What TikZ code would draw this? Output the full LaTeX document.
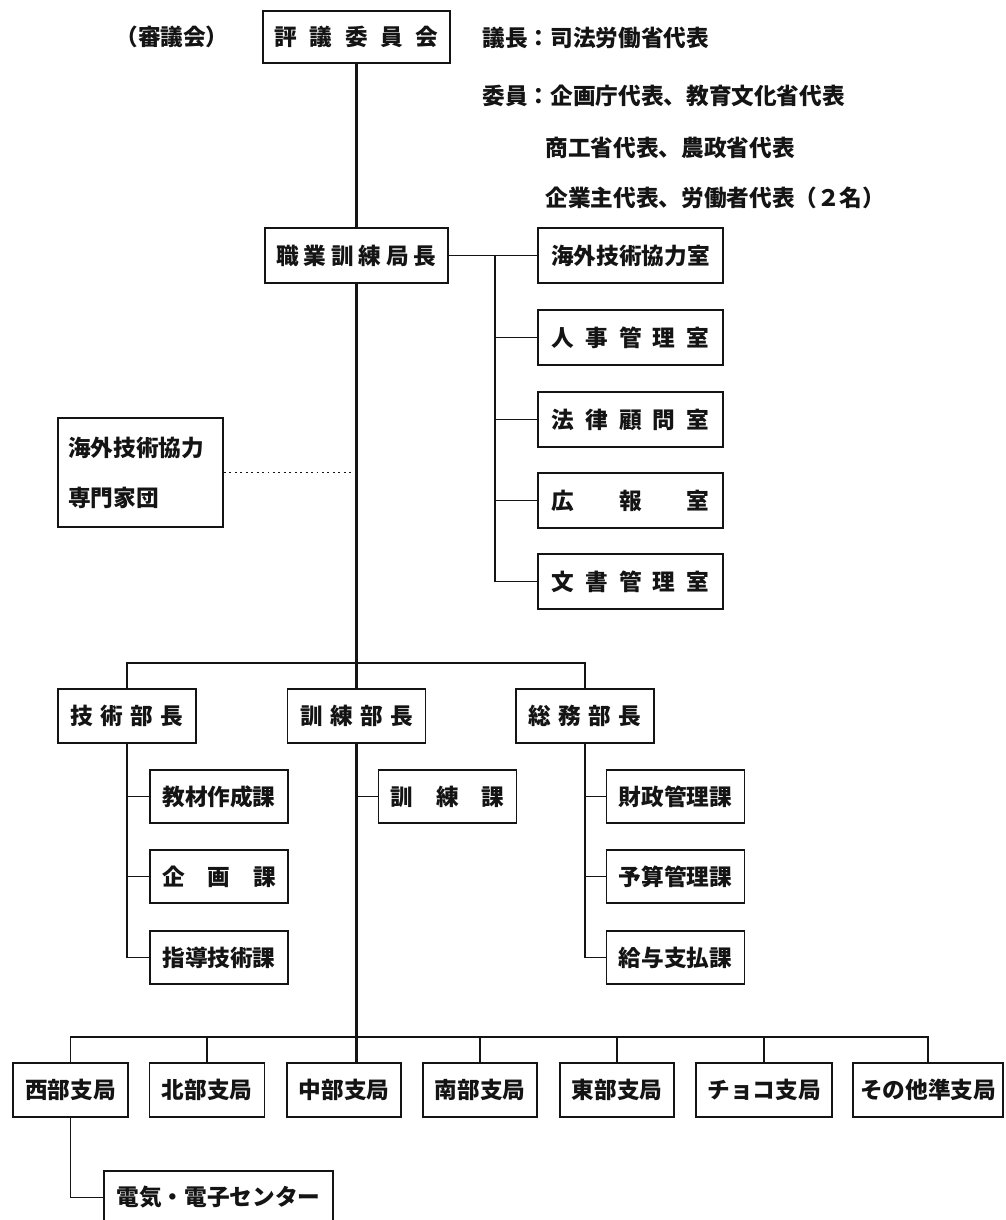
\documentclass[tikz,border=0pt]{standalone}
\usepackage{fontspec}
\setmainfont{Noto Sans CJK JP}
\usepackage{xcolor}
\definecolor{ogink}{HTML}{141414}
\usetikzlibrary{calc,backgrounds}
\newcommand{\ogfont}{\fontsize{12.9}{15}\selectfont\bfseries}
\newcommand{\ogspread}[2]{\makebox[#1][s]{#2}}
\tikzset{
  ogbox/.style    ={rectangle, draw=ogink, line width=1.1pt, fill=white, inner sep=0pt,
                    minimum height=1.08cm, align=center, font=\ogfont, text=ogink},
  ogoffice/.style ={ogbox, minimum width=3.7cm, minimum height=1.1cm},
  ogdept/.style   ={ogbox, minimum width=2.76cm},
  ogsect/.style   ={ogbox, minimum width=2.76cm, minimum height=1.06cm},
  ogbranch/.style ={ogbox, minimum width=2.3cm},
  ogmain/.style   ={line width=1.7pt, draw=ogink},
  ogline/.style   ={line width=0.9pt, draw=ogink},
  ogdots/.style   ={line width=1.1pt, draw=ogink, dotted},
  oglbl/.style    ={font=\ogfont, text=ogink, anchor=west, inner sep=0pt},
}

\begin{document}
\begin{tikzpicture}[x=0.02cm, y=-0.02cm]
  \useasboundingbox (0,0) rectangle (1006,1220);

  % council and its members
  \node[ogbox, minimum width=3.74cm, minimum height=1.04cm] (council) at (356.5,37)
       {\ogspread{3.28cm}{評 議 委 員 会}};
  \node[oglbl, anchor=center] (shingi) at (172,37) {（審議会）};
  \node[oglbl] (chair) at (482,38) {議長：司法労働省代表};
  \node[oglbl] (mem1) at (482,96) {委員：企画庁代表、教育文化省代表};
  \node[oglbl] (mem2) at (545,148) {商工省代表、農政省代表};
  \node[oglbl] (mem3) at (545,198) {企業主代表、労働者代表（２名）};

  % director and staff offices
  \node[ogbox, minimum width=3.66cm, minimum height=1.1cm] (kyoku) at (356.5,255.5)
       {\ogspread{3.2cm}{職 業 訓 練 局 長}};
  \node[ogoffice] (of1) at (630.5,255.5) {海外技術協力室};
  \node[ogoffice] (of2) at (630.5,337.5) {\ogspread{3.16cm}{人 事 管 理 室}};
  \node[ogoffice] (of3) at (630.5,419.5) {\ogspread{3.16cm}{法 律 顧 問 室}};
  \node[ogoffice] (of4) at (630.5,500.5) {\ogspread{3.16cm}{広 報 室}};
  \node[ogoffice] (of5) at (630.5,581.5) {\ogspread{3.16cm}{文 書 管 理 室}};
  \node[ogbox, minimum height=2.18cm, text width=2.9cm, inner xsep=0.2cm, align=left]
       (senmon) at (140.5,472.5) {海外技術協力\\[0.47cm]専門家団};

  % departments
  \node[ogdept] (tech) at (127,716) {\ogspread{2.26cm}{技 術 部 長}};
  \node[ogdept] (kunren) at (356.5,716) {\ogspread{2.26cm}{訓 練 部 長}};
  \node[ogdept] (somu) at (585,716) {\ogspread{2.26cm}{総 務 部 長}};

  \node[ogsect] (tk1) at (219,796.5) {教材作成課};
  \node[ogsect] (tk2) at (219,876.5) {\ogspread{2.28cm}{企 画 課}};
  \node[ogsect] (tk3) at (219,957.5) {指導技術課};
  \node[ogsect] (kr1) at (447.5,796.5) {\ogspread{2.28cm}{訓 練 課}};
  \node[ogsect] (sm1) at (675.5,796.5) {財政管理課};
  \node[ogsect] (sm2) at (675.5,876.5) {予算管理課};
  \node[ogsect] (sm3) at (675.5,957.5) {給与支払課};

  % regional branches
  \node[ogbranch] (seibu) at (70.5,1090) {西部支局};
  \node[ogbranch] (hokubu) at (207,1090) {北部支局};
  \node[ogbranch, minimum width=2.28cm] (chubu) at (344,1090) {中部支局};
  \node[ogbranch, minimum width=2.28cm] (nanbu) at (480,1090) {南部支局};
  \node[ogbranch, minimum width=2.28cm] (tobu) at (617,1090) {東部支局};
  \node[ogbranch, minimum width=2.72cm] (choco) at (764,1090) {チョコ支局};
  \node[ogbranch, minimum width=3.0cm] (sonota) at (928,1090) {その他準支局};
  \node[ogbox, minimum width=4.58cm, minimum height=1.06cm] (elc) at (218.5,1197.5)
       {電気・電子センター};

  \coordinate (obr) at (495,255.5);
  \coordinate (dbus) at (356.5,663);
  \coordinate (bbus) at (356.5,1037);

  \begin{scope}[on background layer]
    \draw[ogmain] (council.south) -- (kyoku.north);
    \draw[ogmain] (kyoku.south) -- (kyoku.south |- chubu.north);
    \draw[ogline] (kyoku.east) -- (of1.west);
    \draw[ogline] (obr) |- (of5.west);
    \foreach \i in {2,3,4}
      \draw[ogline] (obr |- of\i.west) -- (of\i.west);
    \draw[ogdots] (senmon.east) -- (senmon.east -| kyoku.south);
    % department bus
    \draw[ogline] (tech.north) |- (dbus) -| (somu.north);
    \draw[ogline] (tech.south) |- (tk3.west);
    \foreach \i in {1,2}
      \draw[ogline] (tech.south |- tk\i.west) -- (tk\i.west);
    \draw[ogline] (kunren.south |- kr1.west) -- (kr1.west);
    \draw[ogline] (somu.south) |- (sm3.west);
    \foreach \i in {1,2}
      \draw[ogline] (somu.south |- sm\i.west) -- (sm\i.west);
    % branch bus
    \draw[ogline] (seibu.north) |- (bbus) -| (sonota.north);
    \foreach \b in {hokubu,nanbu,tobu,choco}
      \draw[ogline] (\b.north |- bbus) -- (\b.north);
    \draw[ogline] (seibu.south) |- (elc.west);
  \end{scope}
\end{tikzpicture}
\end{document}
